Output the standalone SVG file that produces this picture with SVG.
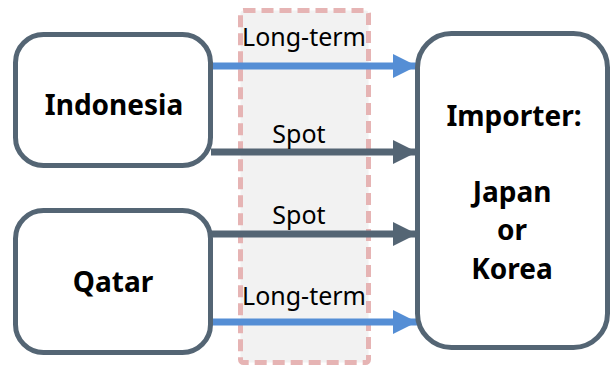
<svg xmlns="http://www.w3.org/2000/svg" width="612" height="366" viewBox="0 0 612 366">
  <style>
    .box { fill: #ffffff; stroke: #546574; stroke-width: 5; }
    .name { font-family: "Noto Sans", "Open Sans", sans-serif; font-weight: bold; font-size: 28px; fill: #000000; text-anchor: middle; }
    .lbl { font-family: "Noto Sans", "Open Sans", sans-serif; font-size: 25px; fill: #000000; text-anchor: middle; }
    .lt { stroke: #558ed5; stroke-width: 7; fill: none; }
    .sp { stroke: #546574; stroke-width: 7; fill: none; }
  </style>
  <defs>
    <marker id="headBlue" markerUnits="userSpaceOnUse" viewBox="0 0 24 24" refX="24" refY="12" markerWidth="24" markerHeight="24" orient="auto">
      <path d="M0,0 L24,12 L0,24 Z" fill="#558ed5"/>
    </marker>
    <marker id="headGrey" markerUnits="userSpaceOnUse" viewBox="0 0 24 24" refX="24" refY="12" markerWidth="24" markerHeight="24" orient="auto">
      <path d="M0,0 L24,12 L0,24 Z" fill="#546574"/>
    </marker>
  </defs>

  <!-- shaded transit band -->
  <g id="band">
    <rect x="240.5" y="10.5" width="128" height="352" rx="3" fill="#f2f2f2" stroke="#e6b4b4" stroke-width="5" stroke-dasharray="12,6"/>
  </g>

  <g id="connectors">
    <line class="lt" x1="211" y1="66" x2="417" y2="66" marker-end="url(#headBlue)"/>
    <line class="sp" x1="211" y1="152" x2="417" y2="152" marker-end="url(#headGrey)"/>
    <line class="sp" x1="211" y1="234" x2="417" y2="234" marker-end="url(#headGrey)"/>
    <line class="lt" x1="211" y1="322" x2="417" y2="322" marker-end="url(#headBlue)"/>
    <text class="lbl" x="304" y="46">Long-term</text>
    <text class="lbl" x="299" y="143">Spot</text>
    <text class="lbl" x="299" y="224">Spot</text>
    <text class="lbl" x="304" y="305">Long-term</text>
  </g>

  <g id="indonesia">
    <rect class="box" x="15.5" y="34.5" width="195" height="131" rx="28"/>
    <text class="name" x="114" y="115">Indonesia</text>
  </g>

  <g id="qatar">
    <rect class="box" x="15.5" y="210.5" width="195" height="142" rx="28"/>
    <text class="name" x="113" y="292">Qatar</text>
  </g>

  <g id="importer">
    <rect class="box" x="417.5" y="33.5" width="190" height="314" rx="34"/>
    <text class="name" x="514" y="126">Importer:</text>
    <text class="name" x="512" y="202">Japan</text>
    <text class="name" x="512" y="240">or</text>
    <text class="name" x="512" y="279">Korea</text>
  </g>
</svg>
